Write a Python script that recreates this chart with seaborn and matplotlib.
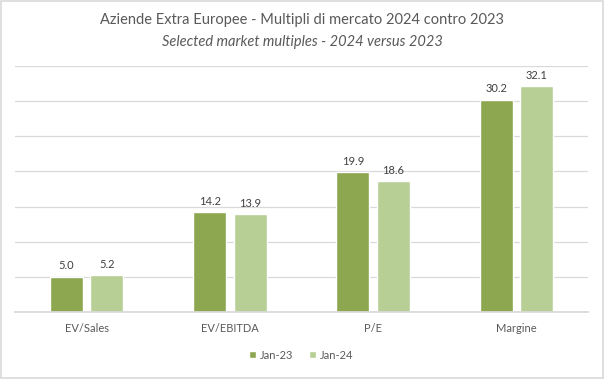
import pandas as pd
import matplotlib.pyplot as plt
import seaborn as sns
from matplotlib.patches import Rectangle

# chart values
categories = ["EV/Sales", "EV/EBITDA", "P/E", "Margine"]
jan23 = [5.0, 14.2, 19.9, 30.2]
jan24 = [5.2, 13.9, 18.6, 32.1]
series = ["Jan-23", "Jan-24"]
colors = ["#8CA750", "#B7CF95"]

df = pd.DataFrame({
    "categoria": categories * 2,
    "valore": jan23 + jan24,
    "serie": [series[0]] * 4 + [series[1]] * 4,
})

sns.set_theme(style="white")
plt.rcParams["font.family"] = ["Lato", "DejaVu Sans"]
text_col = "#595959"

fig = plt.figure(figsize=(6.04, 3.79), dpi=100)
ax = fig.add_axes([0.0248, 0.1768, 0.9487, 0.6491])

sns.barplot(data=df, x="categoria", y="valore", hue="serie",
            palette=colors, width=0.566, gap=0.185, ax=ax,
            saturation=1, legend=True)

for cont in ax.containers:
    ax.bar_label(cont, fmt="%.1f", padding=4, fontsize=8, color="#404040")

ax.set_ylim(0, 35)
ax.set_yticks(range(0, 36, 5))
ax.set_yticklabels([])
ax.tick_params(axis="y", length=0)
ax.tick_params(axis="x", length=0, labelsize=8, labelcolor=text_col, pad=8)
ax.yaxis.grid(True, color="#D9D9D9", linewidth=0.9)
ax.set_axisbelow(True)
for s in ["top", "left", "right"]:
    ax.spines[s].set_visible(False)
ax.spines["bottom"].set_color("#D9D9D9")
ax.set_xlabel("")
ax.set_ylabel("")
ax.set_xlim(-0.5, 3.5)

leg = ax.legend(loc="center", bbox_to_anchor=(0.5, -0.175), ncol=2,
                frameon=False, fontsize=8, handlelength=0.6,
                handleheight=0.6, handletextpad=0.4, columnspacing=1.4)
for t in leg.get_texts():
    t.set_color(text_col)

fig.text(0.5, 0.947, "Aziende Extra Europee - Multipli di mercato 2024 contro 2023",
         ha="center", va="center", fontsize=10.5, color=text_col)
fig.text(0.5, 0.889, "Selected market multiples - 2024 versus 2023",
         ha="center", va="center", fontsize=10.5, color=text_col, style="italic")

fig.patches.append(Rectangle((0.001, 0.002), 0.997, 0.995, transform=fig.transFigure,
                             fill=False, edgecolor="#D9D9D9", linewidth=1.2))

fig.savefig("out.png", dpi=100, facecolor="white")
